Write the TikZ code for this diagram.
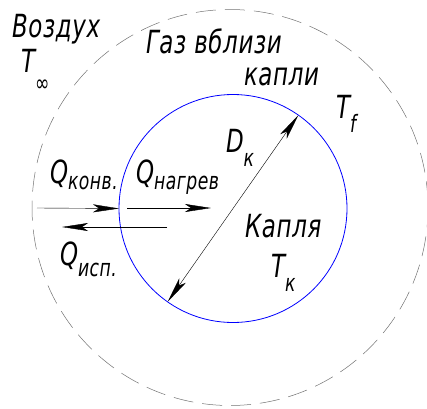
\documentclass[tikz,border=0pt]{standalone}
\usepackage{fontspec}
\newfontfamily\gost[FakeStretch=0.72,LetterSpace=2]{DejaVu Sans}
\usetikzlibrary{arrows.meta}

% index lowered under the main letter
\newcommand{\ind}[3][0.45em]{#2\raisebox{-#1}{\fontsize{24}{24}\selectfont #3}}

\begin{document}
\begin{tikzpicture}[x=1bp,y=-1bp,
  every node/.style={font=\gost\itshape\fontsize{32}{34}\selectfont, inner sep=0pt, outer sep=0pt},
  flow/.style={-{Stealth[length=26bp,width=8bp,inset=6bp]}, line width=0.4bp},
  dim/.style={{Stealth[length=26bp,width=8bp,inset=6bp]}-{Stealth[length=26bp,width=8bp,inset=6bp]}, line width=0.4bp},
  dropline/.style={circle, draw=blue, line width=0.8bp},
  gasline/.style={draw=black!55, line width=0.5bp, dash pattern=on 20bp off 9bp}]
\useasboundingbox (0,0) rectangle (427,409);

% zones
\draw[gasline] (230,207.5) circle[radius=198];
\node[dropline, minimum size=228bp] (drop) at (233,208.5) {};

% diameter
\draw[dim] (drop.235) -- (drop.55);

% heat flows
\coordinate (conv0) at (37,208);
\coordinate (heat0) at (127,208);
\coordinate (heat1) at (211,208);
\coordinate (evap0) at (167,227);
\coordinate (evap1) at (62,227);
\draw[flow] (conv0) -- (drop.west);
\draw[flow] (heat0) -- (heat1);
\draw[flow] (evap0) -- (evap1);

% labels
\node[anchor=base west] (air) at (12,37) {Воздух};
\node[anchor=base west] (tinf) at (21,72) {\ind[0.6em]{T}{∞}};
\node[anchor=base west] (gas) at (146,53) {Газ вблизи};
\node[anchor=base west] (gas2) at (244,85) {капли};
\node[anchor=base west] (tf) at (336,118) {\ind{T}{f}};
\node[anchor=base west] (dk) at (226,152) {\ind{D}{к}};
\node[anchor=base west] (qconv) at (50,183) {\ind[0.2em]{Q}{конв.}};
\node[anchor=base west] (qheat) at (136,183) {\ind[0.2em]{Q}{нагрев}};
\node[anchor=base west] (qevap) at (60,265) {\ind[0.35em]{Q}{исп.}};
\node[anchor=base west] (dropname) at (245,237) {Капля};
\node[anchor=base west] (tk) at (271,277) {\ind{T}{к}};

\end{tikzpicture}
\end{document}
